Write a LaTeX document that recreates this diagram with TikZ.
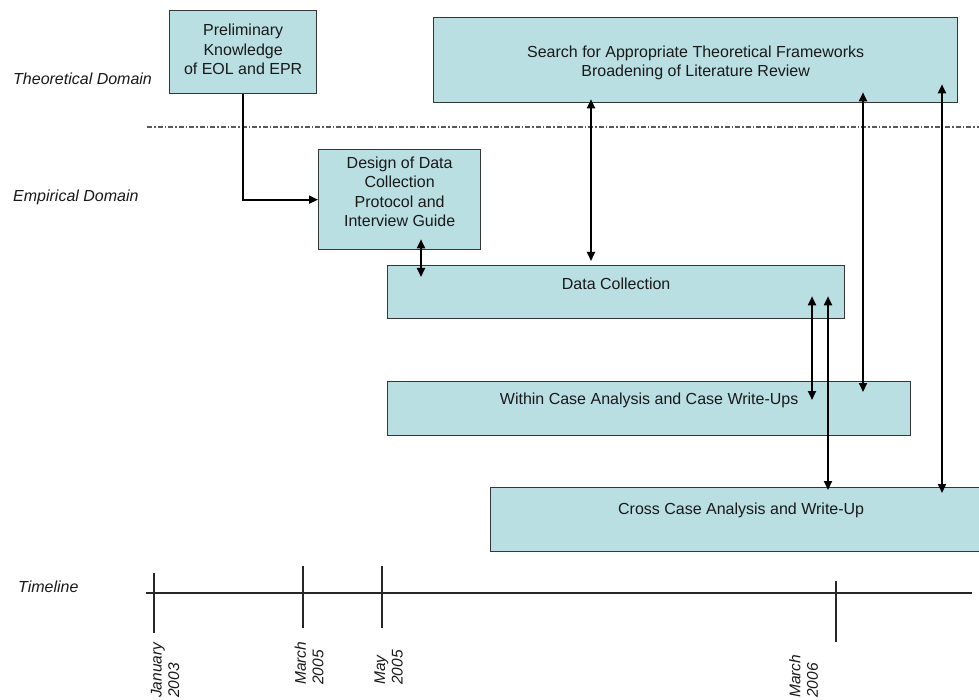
\documentclass[tikz,border=0pt]{standalone}
\usepackage{fontspec}
\setmainfont{Liberation Sans}
\usetikzlibrary{arrows.meta,calc}
\definecolor{boxfill}{RGB}{186,223,227}
\definecolor{boxline}{RGB}{50,55,58}
\begin{document}
\begin{tikzpicture}[x=1pt,y=-1pt,
  box/.style={draw=boxline,fill=boxfill,line width=1.3pt,anchor=north west,inner sep=0pt},
  lbl/.style={font=\fontsize{16}{19.5}\selectfont,align=center,inner sep=0pt,text=black!90},
  side/.style={font=\fontsize{16}{19.5}\selectfont\itshape,anchor=west,inner sep=0pt,text=black!90},
  datelbl/.style={font=\fontsize{15.5}{17.5}\selectfont\itshape,rotate=90,anchor=west,align=left,inner sep=0pt,text=black!90},
  conn/.style={line width=1.8pt,black},
  tip/.style={-{Triangle[length=9pt,width=8pt]}},
  dtip/.style={{Triangle[length=9pt,width=8pt]}-{Triangle[length=9pt,width=8pt]}},
  tl/.style={line width=1.3pt,black!85}]
\useasboundingbox (0,0) rectangle (979,700);

% domain separator
\coordinate (sepL) at (147,127);
\coordinate (sepR) at (979,127);
\draw[black!65,line width=1.1pt,dash pattern=on 5pt off 2pt on 1.5pt off 2pt] (sepL) -- (sepR);

% side labels
\node[side] (theo) at (13,79) {Theoretical Domain};
\node[side] (emp) at (13,197) {Empirical Domain};
\node[side] (tline) at (18,587) {Timeline};

% boxes
\node[box,minimum width=147pt,minimum height=83pt,
  label={[lbl,yshift=2.5pt]center:Preliminary\\Knowledge\\of EOL and EPR}] (prelim) at (169,10) {};
\node[box,minimum width=162pt,minimum height=100pt,
  label={[lbl,yshift=8pt]center:Design of Data\\Collection\\Protocol and\\Interview Guide}] (design) at (318,149) {};
\node[box,minimum width=524pt,minimum height=85pt,
  label={[lbl,yshift=-2.5pt]center:Search for Appropriate Theoretical Frameworks\\Broadening of Literature Review}] (search) at (433,17) {};
\node[box,minimum width=457pt,minimum height=53pt,
  label={[lbl,yshift=8.5pt]center:Data Collection}] (data) at (387,265) {};
\node[box,minimum width=523pt,minimum height=54pt,
  label={[lbl,yshift=8pt]center:Within Case Analysis and Case Write-Ups}] (within) at (387,381) {};
\node[box,minimum width=489pt,minimum height=64pt,
  label={[lbl,yshift=9pt,xshift=6pt]center:Cross Case Analysis and Write-Up}] (cross) at (490,487) {};

% connectors
\draw[conn,tip] (prelim.south) |- (design.west);
\draw[conn,dtip] ($(design.south west)+(103,-11)$) -- ($(data.north west)+(34,12)$);
\draw[conn,dtip] ($(search.south west)+(158,-4)$) -- ($(data.north west)+(204,-4)$);
\draw[conn,dtip] ($(search.south west)+(430,-11)$) -- ($(within.north west)+(476,11)$);
\draw[conn,dtip] ($(search.south west)+(509,-19)$) -- ($(cross.north west)+(452,6)$);
\draw[conn,dtip] ($(data.south west)+(425,-23)$) -- ($(within.north west)+(425,19)$);
\draw[conn,dtip] ($(data.south west)+(441,-23)$) -- ($(cross.north west)+(338,3)$);

% timeline
\coordinate (tlL) at (146,593);
\coordinate (tlR) at (972,593);
\draw[tl] (tlL) -- (tlR);
\coordinate (t1a) at (154,573); \coordinate (t1b) at (154,633);
\coordinate (t2a) at (303,566); \coordinate (t2b) at (303,628);
\coordinate (t3a) at (382,566); \coordinate (t3b) at (382,628);
\coordinate (t4a) at (836,581); \coordinate (t4b) at (836,642);
\draw[tl] (t1a) -- (t1b);
\draw[tl] (t2a) -- (t2b);
\draw[tl] (t3a) -- (t3b);
\draw[tl] (t4a) -- (t4b);

\node[datelbl] (d1) at (165,698) {January\\2003};
\node[datelbl] (d2) at (309,685) {March\\2005};
\node[datelbl] (d3) at (388.5,685) {May\\2005};
\node[datelbl] (d4) at (803.5,698) {March\\2006};
\end{tikzpicture}
\end{document}
